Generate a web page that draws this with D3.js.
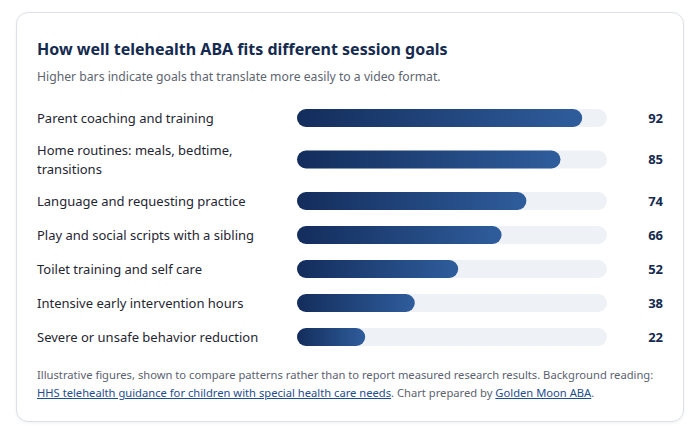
<!DOCTYPE html>
<html>
<head>
    <meta charset="utf-8">
    <title>Telehealth ABA session goals</title>
    <script src="https://d3js.org/d3.v7.min.js"></script>
    <style>
        html, body {
            margin: 0;
            height: 100%;
            overflow: hidden;
            background: #ffffff;
            font-family: "Segoe UI", "Noto Sans", sans-serif;
        }
        #card {
            position: absolute;
            left: 16px;
            top: 12px;
            width: 666px;
            height: 408px;
            border: 1px solid #dde1e7;
            border-radius: 12px;
            background: #fff;
            box-shadow: 0 1px 3px rgba(20, 40, 80, 0.06);
        }
        #chart {
            position: absolute;
            left: 0;
            top: 0;
        }
        .note {
            position: absolute;
            left: 37px;
            top: 366px;
            width: 640px;
            font-size: 11.2px;
            line-height: 18px;
            color: #5b6270;
        }
        .note a {
            color: #1f4e8c;
            text-decoration: underline;
        }
    </style>
</head>
<body>
    <div id="card"></div>
    <svg id="chart" width="696" height="430"></svg>
    <div class="note">
        Illustrative figures, shown to compare patterns rather than to report measured research results. Background reading:<br>
        <a href="#">HHS telehealth guidance for children with special health care needs</a>. Chart prepared by <a href="#">Golden Moon ABA</a>.
    </div>

    <script>
        // Data
        const goals = [
            "Parent coaching and training",
            "Home routines: meals, bedtime, transitions",
            "Language and requesting practice",
            "Play and social scripts with a sibling",
            "Toilet training and self care",
            "Intensive early intervention hours",
            "Severe or unsafe behavior reduction"
        ];
        const fitScores = [92, 85, 74, 66, 52, 38, 22];

        const titleText = "How well telehealth ABA fits different session goals";
        const subtitleText = "Higher bars indicate goals that translate more easily to a video format.";

        const svg = d3.select("#chart");

        // Title and subtitle
        svg.append("text")
            .attr("x", 37).attr("y", 55)
            .attr("fill", "#152a4f")
            .style("font-size", "16px")
            .style("font-weight", 700)
            .text(titleText);

        svg.append("text")
            .attr("x", 37).attr("y", 81)
            .attr("fill", "#5d6470")
            .style("font-size", "12.2px")
            .text(subtitleText);

        // Scale for the bars
        const x = d3.scaleLinear().domain([0, 100]).range([297, 607]);
        const barH = 18;
        const labelWidth = 245;
        const lineH = 19;

        // Gradient for filled bars
        const grad = svg.append("defs").append("linearGradient")
            .attr("id", "barFill")
            .attr("x1", "0%").attr("x2", "100%")
            .attr("y1", "0%").attr("y2", "0%");
        grad.append("stop").attr("offset", "0%").attr("stop-color", "#132d5c");
        grad.append("stop").attr("offset", "100%").attr("stop-color", "#2f5d9c");

        // Wrap labels into lines that fit the label column
        const measure = svg.append("text")
            .style("font-size", "13px")
            .attr("visibility", "hidden");
        function wrap(str) {
            const words = str.split(" ");
            const lines = [];
            let line = "";
            words.forEach(w => {
                const test = line ? line + " " + w : w;
                measure.text(test);
                if (measure.node().getComputedTextLength() > labelWidth && line) {
                    lines.push(line);
                    line = w;
                } else {
                    line = test;
                }
            });
            lines.push(line);
            return lines;
        }
        const wrapped = goals.map(wrap);
        measure.remove();

        // Row centers stacked from the top
        let cursor = 101;
        const centers = wrapped.map(lines => {
            const h = lines.length === 1 ? 34 : 49;
            const c = cursor + h / 2;
            cursor += h;
            return c;
        });

        const rows = svg.selectAll("g.row")
            .data(goals)
            .join("g")
            .attr("class", "row")
            .attr("transform", (d, i) => `translate(0,${centers[i]})`);

        rows.append("text")
            .attr("fill", "#1f2633")
            .style("font-size", "13px")
            .each(function(d, i) {
                const lines = wrapped[i];
                const start = -((lines.length - 1) * lineH) / 2;
                d3.select(this).selectAll("tspan")
                    .data(lines)
                    .join("tspan")
                    .attr("x", 37)
                    .attr("y", (l, j) => start + j * lineH)
                    .attr("dy", "0.35em")
                    .text(l => l);
            });

        rows.append("rect")
            .attr("x", x(0))
            .attr("y", -barH / 2)
            .attr("width", x(100) - x(0))
            .attr("height", barH)
            .attr("rx", barH / 2)
            .attr("fill", "#eef1f6");

        rows.append("rect")
            .attr("x", x(0))
            .attr("y", -barH / 2)
            .attr("width", (d, i) => x(fitScores[i]) - x(0))
            .attr("height", barH)
            .attr("rx", barH / 2)
            .attr("fill", "url(#barFill)");

        rows.append("text")
            .attr("x", 663)
            .attr("dy", "0.35em")
            .attr("text-anchor", "end")
            .attr("fill", "#152a4f")
            .style("font-size", "13px")
            .style("font-weight", 700)
            .text((d, i) => fitScores[i]);
    </script>
</body>
</html>
